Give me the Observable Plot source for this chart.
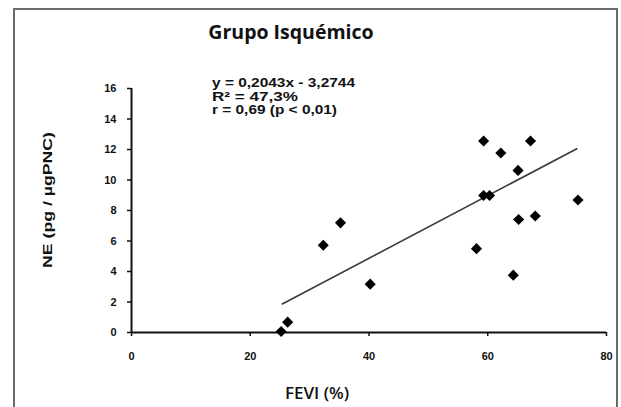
<!DOCTYPE html>
<html>
<head>
<meta charset="utf-8">
<script src="https://cdn.jsdelivr.net/npm/d3@7"></script>
<script src="https://cdn.jsdelivr.net/npm/@observablehq/plot@0.6"></script>
<style>
  html, body { margin: 0; padding: 0; background: #fff; }
  #wrap { position: relative; width: 621px; height: 407px; overflow: hidden; }
  #frame { position: absolute; left: 13px; top: 8px; width: 605px; height: 420px;
           border: 2px solid #6b6b6b; box-sizing: border-box; }
  #wrap svg { position: absolute; left: 0; top: 0; }
</style>
</head>
<body>
<div id="wrap"><div id="frame"></div></div>
<script>
// ---- data ----
const title = "Grupo Isquémico";
const xLabel = "FEVI (%)";
const yLabel = "NE (pg / µgPNC)";
const annotation = ["y = 0,2043x - 3,2744", "R² = 47,3%", "r = 0,69 (p < 0,01)"];
const xTicks = [0, 20, 40, 60, 80];
const yTicks = [0, 2, 4, 6, 8, 10, 12, 14, 16];
const fevi = [25.2, 26.3, 32.3, 35.2, 40.2, 58.1, 59.3, 59.3, 60.3, 62.2, 64.3, 65.1, 65.2, 67.2, 68.0, 75.2];
const ne   = [0.07, 0.68, 5.72, 7.19, 3.17, 5.50, 12.56, 8.98, 8.98, 11.77, 3.76, 10.63, 7.41, 12.56, 7.64, 8.69];
// trend line end points (as drawn)
const trendX = [25.4, 75.0];
const trendY = [1.87, 12.05];

const points = fevi.map((x, i) => ({x, y: ne[i]}));
const trend = trendX.map((x, i) => ({x, y: trendY[i]}));

const chart = Plot.plot({
  width: 621,
  height: 407,
  marginLeft: 131,
  marginRight: 15,
  marginTop: 88,
  marginBottom: 75,
  style: {background: "transparent", color: "#111"},
  x: {domain: [0, 80]},
  y: {domain: [0, 16]},
  marks: [
    Plot.ruleY([0], {x1: 0, x2: 80, stroke: "#111", strokeWidth: 2}),
    Plot.ruleX([0], {y1: 0, y2: 16, stroke: "#111", strokeWidth: 2}),
    Plot.axisX({ticks: xTicks, tickSize: 4, tickPadding: 16, label: null, tickFormat: d => d,
                fontSize: 11, fontWeight: "bold"}),
    Plot.axisY({ticks: yTicks, tickSize: 4, tickPadding: 11, label: null, tickFormat: d => d,
                fontSize: 11, fontWeight: "bold"}),
    Plot.line(trend, {x: "x", y: "y", stroke: "#3a3a3a", strokeWidth: 1.6}),
    Plot.dot(points, {x: "x", y: "y", symbol: "diamond2", r: 5, fill: "#000", stroke: null})
  ]
});

chart.style.fontFamily = "'Liberation Sans', Arial, sans-serif";
document.getElementById("wrap").appendChild(chart);

const svg = d3.select(chart);
svg.selectAll("g[aria-label='x-axis tick'] path, g[aria-label='y-axis tick'] path")
  .attr("stroke-width", 1.5);

// title
svg.append("text")
  .attr("x", 291).attr("y", 39)
  .attr("text-anchor", "middle")
  .style("font", "bold 19.5px 'Open Sans', sans-serif")
  .attr("fill", "#111")
  .text(title);

// x label
svg.append("text")
  .attr("x", 317).attr("y", 399)
  .attr("text-anchor", "middle")
  .style("font", "600 17px 'Open Sans', sans-serif")
  .attr("fill", "#111")
  .text(xLabel);

// y label
svg.append("text")
  .attr("transform", "translate(52,200) rotate(-90)")
  .attr("text-anchor", "middle")
  .attr("textLength", 136).attr("lengthAdjust", "spacingAndGlyphs")
  .style("font", "bold 13px 'Liberation Sans', Arial, sans-serif")
  .attr("fill", "#111")
  .text(yLabel);

// annotation
const annLens = [143, 86, 125];
annotation.forEach((t, i) => {
  svg.append("text")
    .attr("x", 212).attr("y", 87 + i * 13.5)
    .attr("text-anchor", "start")
    .attr("textLength", annLens[i]).attr("lengthAdjust", "spacingAndGlyphs")
    .style("font", "bold 12px 'Liberation Sans', Arial, sans-serif")
    .attr("fill", "#111")
    .text(t);
});
</script>
</body>
</html>
